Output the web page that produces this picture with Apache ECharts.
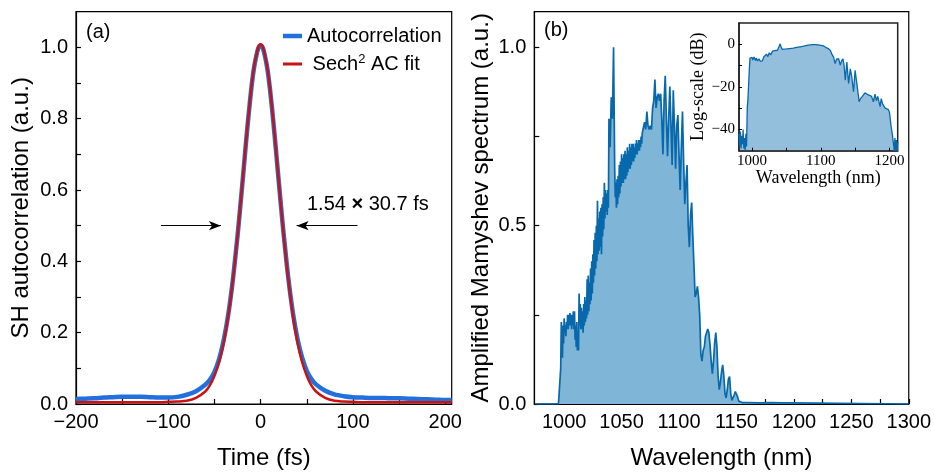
<!DOCTYPE html>
<html>
<head>
<meta charset="utf-8">
<script src="https://cdn.jsdelivr.net/npm/echarts@6/dist/echarts.min.js"></script>
<style>
html,body{margin:0;padding:0;background:#fff;}
#c{width:934px;height:475px;}
</style>
</head>
<body>
<div id="c"></div>
<script>
// ---------- Panel (a): autocorrelation ----------
const timeFs = [-200,-190,-180,-170,-160,-150,-140,-130,-120,-110,-100,-90,-80,-70,-60,-55,-50,-45,-40,-35,-30,-25,-22.5,-20,-17.5,-15,-12.5,-10,-7.5,-5,-2.5,0,2.5,5,7.5,10,12.5,15,17.5,20,22.5,25,30,35,40,45,50,55,60,70,80,90,100,110,120,130,140,150,160,170,180,190,200,207];
const acMeasured = [0.014,0.015,0.016,0.018,0.019,0.020,0.020,0.020,0.019,0.018,0.018,0.020,0.026,0.036,0.054,0.068,0.090,0.126,0.179,0.252,0.350,0.472,0.540,0.611,0.684,0.757,0.824,0.886,0.937,0.972,0.998,1.005,0.998,0.972,0.937,0.886,0.825,0.758,0.686,0.614,0.543,0.475,0.353,0.255,0.182,0.130,0.093,0.070,0.055,0.037,0.027,0.022,0.019,0.018,0.017,0.017,0.016,0.016,0.015,0.014,0.013,0.012,0.011,0.011];
const acFit = [0.005,0.005,0.005,0.005,0.005,0.005,0.005,0.005,0.005,0.005,0.006,0.007,0.009,0.017,0.035,0.052,0.079,0.117,0.172,0.248,0.348,0.472,0.541,0.613,0.686,0.759,0.826,0.888,0.939,0.974,1.001,1.009,1.001,0.974,0.939,0.888,0.826,0.759,0.686,0.613,0.541,0.472,0.348,0.248,0.172,0.117,0.079,0.052,0.035,0.017,0.009,0.007,0.006,0.005,0.005,0.005,0.005,0.005,0.005,0.005,0.005,0.005,0.005,0.005];
const timeTickLabels = [-200,-100,0,100,200];
const timeTicks = [-200,-150,-100,-50,0,50,100,150,200];
const acTickLabels = [0,0.2,0.4,0.6,0.8,1.0];
const acTicks = [0,0.1,0.2,0.3,0.4,0.5,0.6,0.7,0.8,0.9,1.0];

// ---------- Panel (b): spectrum (linear) ----------
const specWl = [
  975,990,995,996,
  997,997.5,998,998.5,999,999.5,
  1000,1000.5,1001,1001.5,1002,1002.5,1003,1003.5,1004,1004.5,
  1005,1005.5,1006,1006.5,1007,1007.5,1008,1008.5,1009,1009.5,
  1010,1010.5,1011,1011.5,1012,1012.5,1013,1013.5,1014,1014.5,
  1015,1015.5,1016,1016.5,1017,1017.5,1018,1018.5,1019,1019.5,
  1020,1020.5,1021,1021.5,1022,1022.5,1023,1023.5,1024,1024.5,
  1025,1025.5,1026,1026.5,1027,1027.5,1028,1028.5,1029,1029.5,
  1030,1030.5,1031,1031.5,1032,1032.5,1033,1033.5,1034,1034.5,
  1035,1035.5,1036,1036.5,1037,1037.5,1038,1038.5,
  1039,1040,1041,1042,1043,1044,
  1044.5,1045,1045.5,1046,1046.5,1047,1047.5,1048,1048.5,1049,
  1049.5,1050,1050.5,1051,1051.5,1052,1052.5,1053,1053.5,1054,
  1054.5,1055,1055.5,1056,1056.5,1057,1057.5,1058,1058.5,1059,
  1059.5,1060,1060.5,1061,1061.5,1062,1062.5,1063,1063.5,1064,
  1064.5,1065,1065.5,1066,1066.5,1067,1067.5,1068,
  1069,1070,1071,1072,1073,1074,1075,1076,1077,1078,
  1079,1080,1081,1082,1083,1084,1085,1086,1087,1088,
  1089,1090,1091,1092,1093,1094,1095,1096,1097,1098,
  1099,1100,1101,1102,1103,1104,1105,1106,1107,1108,
  1109,1110,1111,1112,1113,1114,1115,1116,1117,1118,
  1119,1120,1121,1122,1123,1124,1125,1126,1127,1128,
  1129,1130,1131,1132,1133,1134,1135,1136,1137,1138,
  1139,1140,1141,1142,1143,1144,1145,1146,1147,1148,
  1149,1150,1151,1152,1153,
  1155,1160,1170,1180,1190,1199,1200,1300
];
const specVal = [
  0,0,0,0,
  0.10,0.23,0.20,0.13,0.22,0.17,
  0.24,0.20,0.22,0.19,0.23,0.21,0.25,0.21,0.25,0.22,
  0.255,0.22,0.25,0.21,0.25,0.22,0.26,0.21,0.26,0.18,
  0.22,0.16,0.23,0.15,0.20,0.15,0.31,0.22,0.28,0.21,
  0.27,0.21,0.26,0.20,0.28,0.22,0.30,0.23,0.29,0.24,
  0.35,0.25,0.36,0.26,0.34,0.28,0.38,0.29,0.40,0.31,
  0.42,0.34,0.46,0.36,0.48,0.38,0.50,0.40,0.57,0.42,
  0.52,0.43,0.54,0.44,0.55,0.42,0.56,0.47,0.58,0.49,
  0.62,0.52,0.60,0.54,0.59,0.53,0.60,0.55,
  0.80,0.72,0.86,0.80,1.0,0.66,
  0.58,0.62,0.55,0.63,0.56,0.64,0.58,0.67,0.59,0.68,
  0.61,0.70,0.62,0.69,0.62,0.70,0.63,0.71,0.63,0.70,
  0.64,0.72,0.65,0.71,0.66,0.73,0.66,0.72,0.67,0.73,
  0.68,0.73,0.68,0.72,0.69,0.73,0.70,0.74,0.70,0.73,
  0.71,0.74,0.71,0.74,0.72,0.75,0.73,0.76,
  0.76,0.79,0.77,0.82,0.78,0.77,0.78,0.77,0.83,0.85,
  0.91,0.83,0.86,0.87,0.85,0.87,0.80,0.70,0.85,0.92,
  0.80,0.695,0.80,0.89,0.78,0.67,0.88,0.78,0.66,0.78,
  0.81,0.70,0.60,0.72,0.82,0.68,0.56,0.62,0.67,0.50,
  0.44,0.53,0.565,0.47,0.39,0.30,0.31,0.33,0.30,0.25,
  0.14,0.12,0.15,0.16,0.19,0.19,0.21,0.20,0.165,0.12,
  0.085,0.12,0.17,0.20,0.16,0.08,0.04,0.06,0.09,0.11,
  0.08,0.03,0.017,0.04,0.07,0.077,0.03,0.01,0.012,0.025,
  0.035,0.037,0.02,0.008,0.005,
  0.004,0.004,0.003,0.004,0.003,0.003,0,0
];
const wlTickLabels = [1000,1050,1100,1150,1200,1250,1300];
const wlTicks = [1000,1025,1050,1075,1100,1125,1150,1175,1200,1225,1250,1275,1300];
const specTickLabels = [0,0.5,1.0];
const specTicks = [0,0.25,0.5,0.75,1.0];

// ---------- Inset: spectrum (dB) ----------
const insetWl = [981,982,983,984,985,986,987,988,989,990,991,992,993,994,995,996,997,998,1000,1001,1003,1005,1006,1008,1010,1012,1013.5,1015,1017,1019,1021,1023,1025,1027,1030,1033,1035,1037,1039,1041,1042,1044,1047,1050,1055,1060,1065,1070,1075,1080,1084,1086,1088,1090,1092,1094,1096,1098,1100,1102,1104,1106,1108,1111,1114,1116,1118.7,1121,1123,1126,1128.4,1130,1132.3,1134,1135.7,1138,1140.5,1143,1145,1147.7,1150,1152.5,1155.9,1158,1160,1164.5,1167,1169.4,1172,1174,1176.6,1179,1181,1183,1186.4,1188,1190,1193.7,1196,1198.5,1200,1202.4,1204,1205.7,1207,1208,1209,1210,1211,1212];
const insetDb = [-42,-48,-41,-49,-43,-47,-40,-49,-44,-50,-42,-48,-30,-26,-26,-12,-6.5,-6.4,-6.2,-7.4,-6.0,-7.6,-6.5,-7.8,-6.8,-8.0,-7.2,-7.8,-6.0,-6.8,-4.6,-5.8,-4.0,-5.0,-3.2,-3.0,-2.6,-2.8,-2.2,0.2,-1.0,-2.4,-2.3,-2.2,-2.0,-1.8,-1.5,-1.2,-0.9,-0.5,-0.3,-0.6,-0.2,-0.5,-0.2,-0.6,-0.3,-0.8,-0.5,-0.9,-0.7,-1.3,-1.6,-2.0,-2.9,-4.5,-6.0,-9.1,-7.0,-6.8,-9.8,-8.0,-6.8,-10,-16.9,-8.4,-18.4,-11.5,-15,-22.3,-12.2,-18.4,-27,-25.5,-24.6,-22.8,-23.5,-23.8,-23.2,-24.5,-27,-23.4,-26.5,-24.5,-29.3,-25.5,-28.0,-30,-29.8,-30.7,-32,-38.6,-42,-46.3,-50,-44,-50,-45,-50,-46];
const insetWlLabels = [1000,1100,1200];
const insetWlTicks = [1000,1050,1100,1150,1200];
const insetDbLabels = [0,-20,-40];
const insetDbTicks = [-40,-30,-20,-10,0];

// ---------- build ----------
const FONT = "'Liberation Sans', Arial, sans-serif";
const SERIF = "'Liberation Serif', 'Times New Roman', serif";
const minusFmt = v => String(v).replace('-', '\u2212');
const plainFmt = v => String(v);
const pairs = (xs, ys) => xs.map((x, i) => [x, ys[i]]);

function axisCommon(opts) {
  return Object.assign({
    type: 'value',
    axisLine: { show: true, onZero: false, lineStyle: { color: '#000', width: 1.2 } },
    axisTick: { show: true, inside: true, length: 5, lineStyle: { color: '#000', width: 1.2 } },
    axisLabel: { color: '#000', fontSize: 20, fontFamily: FONT, margin: 8 },
    splitLine: { show: false },
    nameLocation: 'middle',
    nameTextStyle: { color: '#000', fontSize: 24, fontFamily: FONT }
  }, opts);
}

const chart = echarts.init(document.getElementById('c'), null, { renderer: 'canvas' });
const option = {
  animation: false,
  backgroundColor: '#fff',
  grid: [
    { left: 76, top: 11.7, width: 375.7, height: 394.3, show: true, borderColor: '#000', borderWidth: 1.2, backgroundColor: 'transparent' },
    { left: 534.3, top: 11.7, width: 376.7, height: 394.3, show: true, borderColor: '#000', borderWidth: 1.2, backgroundColor: 'transparent' },
    { left: 739, top: 23, width: 158.7, height: 127.7, show: true, borderColor: '#222', borderWidth: 1.5, backgroundColor: '#fff', z: 5 }
  ],
  xAxis: [
    axisCommon({ gridIndex: 0, min: -200, max: 207, name: 'Time (fs)', nameGap: 42,
      axisTick: { show: true, inside: true, length: 5, customValues: timeTicks, lineStyle: { color: '#000', width: 1.2 } },
      axisLabel: { color: '#000', fontSize: 20, fontFamily: FONT, margin: 8, customValues: timeTickLabels, formatter: minusFmt } }),
    axisCommon({ gridIndex: 1, min: 974, max: 1300, name: 'Wavelength (nm)', nameGap: 42,
      axisTick: { show: true, inside: true, length: 5, customValues: wlTicks, lineStyle: { color: '#000', width: 1.2 } },
      axisLabel: { color: '#000', fontSize: 20, fontFamily: FONT, margin: 8, customValues: wlTickLabels, formatter: plainFmt } }),
    axisCommon({ gridIndex: 2, min: 981, max: 1212, name: 'Wavelength (nm)', nameGap: 18, z: 6,
      axisLine: { show: true, onZero: false, lineStyle: { color: '#222', width: 1.5 } },
      axisTick: { show: true, inside: true, length: 3, customValues: insetWlTicks, lineStyle: { color: '#000', width: 1 } },
      axisLabel: { color: '#000', fontSize: 15, fontFamily: SERIF, margin: 3, customValues: insetWlLabels, formatter: plainFmt },
      nameTextStyle: { color: '#000', fontSize: 18, fontFamily: SERIF } })
  ],
  yAxis: [
    axisCommon({ gridIndex: 0, min: 0, max: 1.1, name: 'SH autocorrelation (a.u.)', nameGap: 43,
      axisTick: { show: true, inside: true, length: 5, customValues: acTicks, lineStyle: { color: '#000', width: 1.2 } },
      axisLabel: { color: '#000', fontSize: 20, fontFamily: FONT, margin: 8, customValues: acTickLabels, formatter: v => Number(v).toFixed(1) } }),
    axisCommon({ gridIndex: 1, min: 0, max: 1.1, name: 'Amplified Mamyshev spectrum (a.u.)', nameGap: 41,
      axisTick: { show: true, inside: true, length: 5, customValues: specTicks, lineStyle: { color: '#000', width: 1.2 } },
      axisLabel: { color: '#000', fontSize: 20, fontFamily: FONT, margin: 8, customValues: specTickLabels, formatter: v => Number(v).toFixed(1) } }),
    axisCommon({ gridIndex: 2, min: -50, max: 10, name: 'Log-scale (dB)', nameGap: 30, z: 6,
      axisLine: { show: true, onZero: false, lineStyle: { color: '#222', width: 1.5 } },
      axisTick: { show: true, inside: true, length: 3, customValues: insetDbTicks, lineStyle: { color: '#000', width: 1 } },
      axisLabel: { color: '#000', fontSize: 15, fontFamily: SERIF, margin: 4, customValues: insetDbLabels, formatter: minusFmt },
      nameTextStyle: { color: '#000', fontSize: 18, fontFamily: SERIF } })
  ],
  legend: [
    { left: 283, top: 26, padding: 0, orient: 'vertical', data: ['Autocorrelation'], icon: 'rect', itemWidth: 19, itemHeight: 4.5,
      textStyle: { color: '#000', fontSize: 20, fontFamily: FONT }, selectedMode: false },
    { left: 283, top: 53, padding: 0, orient: 'vertical', data: ['Sech2 AC fit'], icon: 'rect', itemWidth: 19, itemHeight: 3,
      formatter: () => ' Sech{sup|2} AC fit',
      textStyle: { color: '#000', fontSize: 20, fontFamily: FONT,
        rich: { sup: { fontSize: 13, fontFamily: FONT, color: '#000', verticalAlign: 'top', padding: [0, 0, 9, 0] } } },
      selectedMode: false }
  ],
  series: [
    { name: 'Autocorrelation', type: 'line', xAxisIndex: 0, yAxisIndex: 0, data: pairs(timeFs, acMeasured),
      showSymbol: false, smooth: 0.3, color: '#2170de', lineStyle: { color: '#2170de', width: 4.5 }, z: 2 },
    { name: 'Sech2 AC fit', type: 'line', xAxisIndex: 0, yAxisIndex: 0, data: pairs(timeFs, acFit),
      showSymbol: false, smooth: 0.3, color: '#cc1111', lineStyle: { color: '#cc1111', width: 2.5 }, z: 3,
      markLine: { silent: true, symbol: ['none', 'arrow'], symbolSize: [7, 12], label: { show: false },
        lineStyle: { color: '#000', width: 1.2, type: 'solid' },
        data: [
          [{ coord: [-108, 0.5] }, { coord: [-43, 0.5] }],
          [{ coord: [105, 0.5] }, { coord: [39, 0.5] }]
        ] } },
    { name: 'Spectrum', type: 'line', xAxisIndex: 1, yAxisIndex: 1, data: pairs(specWl, specVal),
      showSymbol: false, color: '#0868ac', lineStyle: { color: '#0868ac', width: 1.7 },
      areaStyle: { color: '#7fb5d6', opacity: 1, origin: 'start' }, z: 2 },
    { name: 'SpectrumDb', type: 'line', xAxisIndex: 2, yAxisIndex: 2, data: pairs(insetWl, insetDb),
      showSymbol: false, color: '#0868ac', lineStyle: { color: '#0868ac', width: 1.3 },
      areaStyle: { color: '#93bfdd', opacity: 1, origin: 'start' }, z: 6 }
  ],
  graphic: [
    { type: 'text', left: 86, top: 22, z: 10, style: { text: '(a)', fontSize: 20, fontFamily: FONT, fill: '#000' } },
    { type: 'text', left: 544, top: 20, z: 10, style: { text: '(b)', fontSize: 20, fontFamily: FONT, fill: '#000' } },
    { type: 'text', left: 307, top: 194, z: 10, style: {
      text: '1.54 {b|\u00d7} 30.7 fs', fontSize: 20, fontFamily: FONT, fill: '#000',
      rich: { b: { fontSize: 20, fontWeight: 'bold', fontFamily: FONT, fill: '#000' } } } }
  ]
};
chart.setOption(option);
</script>
</body>
</html>
